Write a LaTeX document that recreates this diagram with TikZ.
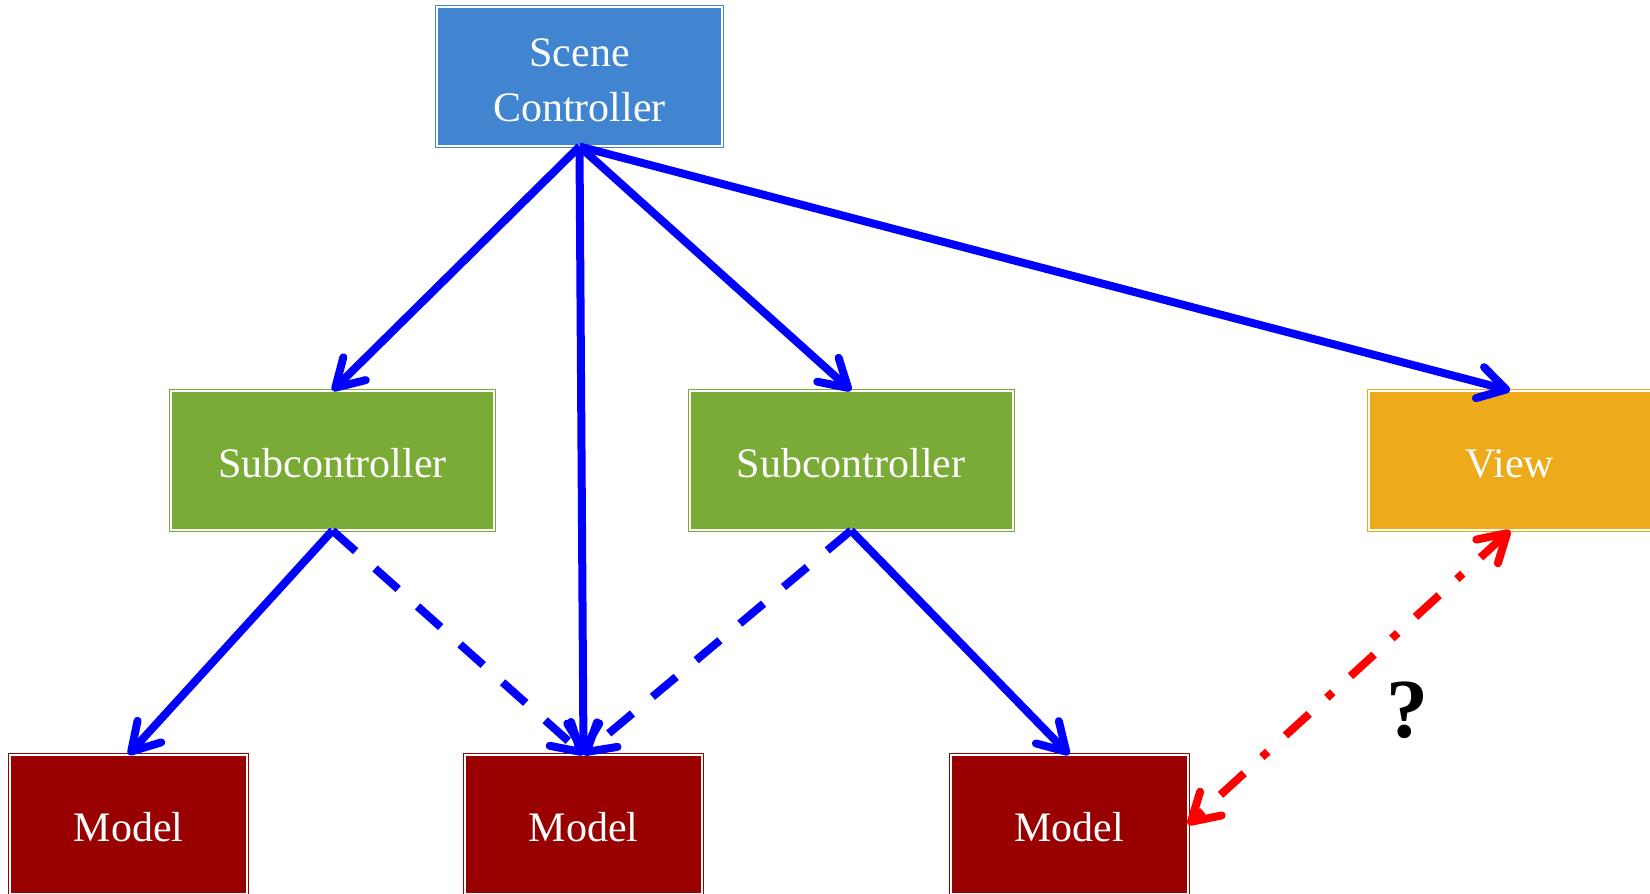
\documentclass[tikz,border=0pt]{standalone}
\usepackage{fontspec}
\setmainfont{Liberation Serif}
\usetikzlibrary{arrows.meta}
\definecolor{scblue}{HTML}{4185D0}
\definecolor{subgreen}{HTML}{7AAB36}
\definecolor{vieworange}{HTML}{EDAA1A}
\definecolor{modelred}{HTML}{990000}
\definecolor{arrblue}{HTML}{0000FF}
\definecolor{arrred}{HTML}{FF0000}
\begin{document}
\begin{tikzpicture}[x=1pt,y=-1pt,
  box/.style={draw=#1, fill=#1, line width=1pt, double=white, double distance=2pt,
    text=white, inner sep=0pt, minimum height=139pt, align=center, text height=34pt,
    font=\fontsize{42}{55}\selectfont},
  barb/.style={-{Straight Barb[length=27pt,width=32pt,round]}},
  conn/.style={arrblue, line width=8pt, barb},
  dconn/.style={conn, dash pattern=on 31pt off 26pt},
  qconn/.style={arrred, line width=8pt,
    {Straight Barb[length=27pt,width=32pt,round]}-{Straight Barb[length=27pt,width=32pt,round]},
    dash pattern=on 32pt off 24pt on 8pt off 24pt}
]
\useasboundingbox (0,0) rectangle (1650,894);
\node[box=scblue, minimum width=285pt, text height=90pt] (sc) at (579.5,76.5) {Scene\\Controller};
\node[box=subgreen, minimum width=323pt] (sub1) at (332.5,460.5) {Subcontroller};
\node[box=subgreen, minimum width=323pt] (sub2) at (851,460.5) {Subcontroller};
\node[box=vieworange, minimum width=282pt] (view) at (1510,460.5) {View};
\node[box=modelred, minimum width=237pt] (m1) at (128.5,824.5) {Model};
\node[box=modelred, minimum width=237pt] (m2) at (583.5,824.5) {Model};
\node[box=modelred, minimum width=237pt] (m3) at (1069,824.5) {Model};

\draw[conn] (sc.south) -- (sub1.north);
\draw[conn] (sc.south) -- (m2.north);
\draw[conn] (sc.south) -- (sub2.north);
\draw[conn] (sc.south) -- (view.north);
\draw[conn] (sub1.south) -- (m1.north);
\draw[dconn] (sub1.south) -- (m2.north);
\draw[dconn] (sub2.south) -- (m2.north);
\draw[conn] (sub2.south) -- (m3.north);
\draw[qconn] (view.south) -- (m3.east);
\node[font=\fontsize{84}{84}\selectfont\bfseries, inner sep=0pt] (q) at (1407,710) {?};
\end{tikzpicture}
\end{document}
